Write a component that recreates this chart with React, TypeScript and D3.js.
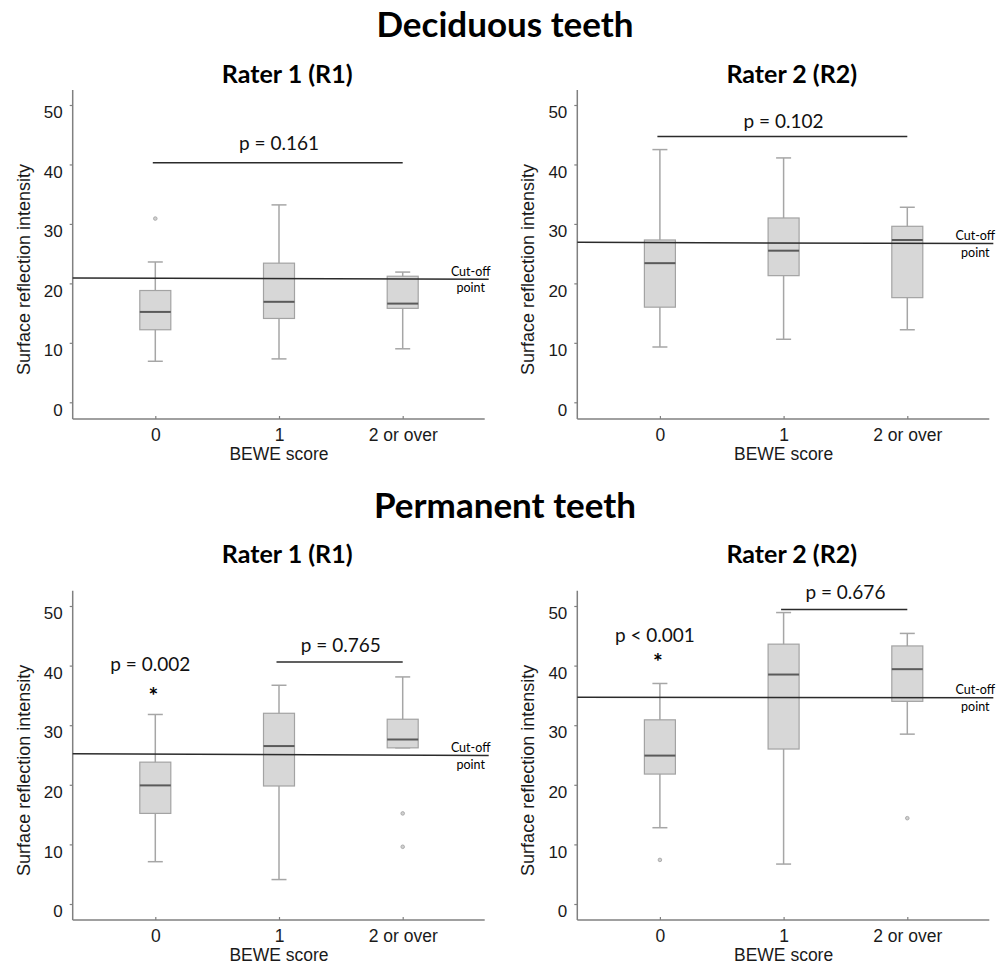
import React, { useEffect, useRef } from "react";
import * as d3 from "d3";

const categories = ["0", "1", "2 or over"];
const yTicks = [0, 10, 20, 30, 40, 50];

// box stats (whisker min, q1, median, q3, whisker max)
const deciduousR1 = [
  { min: 6.9, q1: 12.2, median: 15.2, q3: 18.8, max: 23.6 },
  { min: 7.3, q1: 14.1, median: 16.9, q3: 23.4, max: 33.2 },
  { min: 9.0, q1: 15.8, median: 16.6, q3: 21.2, max: 21.9 },
];
const deciduousR2 = [
  { min: 9.3, q1: 16.0, median: 23.4, q3: 27.3, max: 42.5 },
  { min: 10.6, q1: 21.3, median: 25.5, q3: 31.0, max: 41.1 },
  { min: 12.2, q1: 17.6, median: 27.3, q3: 29.6, max: 32.8 },
];
const permanentR1 = [
  { min: 7.1, q1: 15.2, median: 19.9, q3: 23.8, max: 31.8 },
  { min: 4.1, q1: 19.8, median: 26.5, q3: 32.0, max: 36.7 },
  { min: 26.2, q1: 26.2, median: 27.6, q3: 31.0, max: 38.1 },
];
const permanentR2 = [
  { min: 12.8, q1: 21.8, median: 24.9, q3: 30.9, max: 37.0 },
  { min: 6.7, q1: 26.0, median: 38.5, q3: 43.6, max: 48.9 },
  { min: 28.5, q1: 34.0, median: 39.4, q3: 43.3, max: 45.4 },
];

const deciduousR1Outliers = [[30.9], [], []];
const deciduousR2Outliers = [[], [], []];
const permanentR1Outliers = [[], [], [15.2, 9.6]];
const permanentR2Outliers = [[7.4], [], [14.4]];

// cut-off line value at left and right end
const deciduousR1Cutoff = [20.9, 20.7];
const deciduousR2Cutoff = [26.9, 26.7];
const permanentR1Cutoff = [25.2, 24.9];
const permanentR2Cutoff = [34.7, 34.6];

const deciduousR1Tests = [{ from: "0", to: "2 or over", bar: 40.3, labelAt: 42.5, label: "p = 0.161", star: null }];
const deciduousR2Tests = [{ from: "0", to: "2 or over", bar: 44.7, labelAt: 46.2, label: "p = 0.102", star: null }];
const permanentR1Tests = [
  { from: "0", to: "0", bar: null, labelAt: 39.1, label: "p = 0.002", star: 35.9 },
  { from: "1", to: "2 or over", bar: 40.6, labelAt: 42.3, label: "p = 0.765", star: null },
];
const permanentR2Tests = [
  { from: "0", to: "0", bar: null, labelAt: 44.0, label: "p < 0.001", star: 41.6 },
  { from: "1", to: "2 or over", bar: 49.4, labelAt: 51.1, label: "p = 0.676", star: null },
];

const calibriLike = "Lato, 'Open Sans', sans-serif";
const arialLike = "'Liberation Sans', Arial, sans-serif";

const panels = [
  { title: "Rater 1 (R1)", boxes: deciduousR1, outliers: deciduousR1Outliers, cutoff: deciduousR1Cutoff, tests: deciduousR1Tests, left: 72.7, top: 90, bottom: 419, zeroY: 402.3, fiftyY: 105, titleY: 83 },
  { title: "Rater 2 (R2)", boxes: deciduousR2, outliers: deciduousR2Outliers, cutoff: deciduousR2Cutoff, tests: deciduousR2Tests, left: 577.3, top: 90, bottom: 419, zeroY: 402.3, fiftyY: 105, titleY: 83 },
  { title: "Rater 1 (R1)", boxes: permanentR1, outliers: permanentR1Outliers, cutoff: permanentR1Cutoff, tests: permanentR1Tests, left: 72.7, top: 590.7, bottom: 920, zeroY: 904, fiftyY: 606, titleY: 563 },
  { title: "Rater 2 (R2)", boxes: permanentR2, outliers: permanentR2Outliers, cutoff: permanentR2Cutoff, tests: permanentR2Tests, left: 577.3, top: 590.7, bottom: 920, zeroY: 904, fiftyY: 606, titleY: 563 },
];

const sections = [
  { label: "Deciduous teeth", y: 37 },
  { label: "Permanent teeth", y: 518 },
];

const App = () => {
  const svgRef = useRef<SVGSVGElement>(null);

  useEffect(() => {
    const svg = d3.select(svgRef.current);
    svg.selectAll("*").remove();

    svg.append("rect").attr("width", 1006).attr("height", 965).attr("fill", "#fff");

    svg
      .selectAll(".section")
      .data(sections)
      .join("text")
      .attr("class", "section")
      .attr("x", 505)
      .attr("y", (d) => d.y)
      .attr("text-anchor", "middle")
      .style("font-family", calibriLike)
      .style("font-weight", "bold")
      .style("font-size", "35px")
      .style("fill", "#000")
      .text((d) => d.label);

    panels.forEach((p) => {
      const y = d3.scaleLinear().domain([0, 50]).range([p.zeroY, p.fiftyY]);
      const x = d3.scalePoint().domain(categories).range([p.left + 82.6, p.left + 330]);
      const g = svg.append("g");
      const boxW = 31;
      const capW = 15;

      g.append("text")
        .attr("x", p.left + 214.5)
        .attr("y", p.titleY)
        .attr("text-anchor", "middle")
        .style("font-family", calibriLike)
        .style("font-weight", "bold")
        .style("font-size", "25px")
        .text(p.title);

      // axes
      const yAxis = g
        .append("g")
        .attr("transform", `translate(${p.left},0)`)
        .call(d3.axisLeft(y).tickValues(yTicks).tickSize(3).tickPadding(7));
      yAxis.select(".domain").remove();
      yAxis.selectAll("line").attr("stroke", "#808080").attr("stroke-width", 1.2);
      yAxis
        .selectAll("text")
        .attr("dy", "0.75em")
        .style("font-family", arialLike)
        .style("font-size", "17px")
        .style("fill", "#1a1a1a");

      const xAxis = g
        .append("g")
        .attr("transform", `translate(0,${p.bottom})`)
        .call(d3.axisBottom(x).tickSize(-3).tickPadding(10));
      xAxis.select(".domain").remove();
      xAxis.selectAll("line").attr("stroke", "#808080").attr("stroke-width", 1.2);
      xAxis
        .selectAll("text")
        .style("font-family", arialLike)
        .style("font-size", "17.5px")
        .style("fill", "#1a1a1a");

      g.append("line")
        .attr("x1", p.left).attr("x2", p.left)
        .attr("y1", p.top).attr("y2", p.bottom)
        .attr("stroke", "#808080").attr("stroke-width", 1.5);
      g.append("line")
        .attr("x1", p.left).attr("x2", p.left + 412)
        .attr("y1", p.bottom).attr("y2", p.bottom)
        .attr("stroke", "#808080").attr("stroke-width", 1.5);

      g.append("text")
        .attr("transform", `translate(${p.left - 43},${(p.top + p.bottom) / 2 + 15}) rotate(-90)`)
        .attr("text-anchor", "middle")
        .style("font-family", arialLike)
        .style("font-size", "18px")
        .style("fill", "#1a1a1a")
        .text("Surface reflection intensity");

      g.append("text")
        .attr("x", x("1"))
        .attr("y", p.bottom + 41)
        .attr("text-anchor", "middle")
        .style("font-family", arialLike)
        .style("font-size", "17.5px")
        .style("fill", "#1a1a1a")
        .text("BEWE score");

      // boxes
      const items = g
        .selectAll(".box")
        .data(p.boxes.map((b, i) => ({ ...b, cat: categories[i], out: p.outliers[i] })))
        .join("g")
        .attr("class", "box");

      items.append("line")
        .attr("x1", (d) => x(d.cat)).attr("x2", (d) => x(d.cat))
        .attr("y1", (d) => y(d.min)).attr("y2", (d) => y(d.max))
        .attr("stroke", "#a6a6a6").attr("stroke-width", 1.5);
      items.append("line")
        .attr("x1", (d) => x(d.cat) - capW / 2).attr("x2", (d) => x(d.cat) + capW / 2)
        .attr("y1", (d) => y(d.max)).attr("y2", (d) => y(d.max))
        .attr("stroke", "#a6a6a6").attr("stroke-width", 1.5);
      items.append("line")
        .attr("x1", (d) => x(d.cat) - capW / 2).attr("x2", (d) => x(d.cat) + capW / 2)
        .attr("y1", (d) => y(d.min)).attr("y2", (d) => y(d.min))
        .attr("stroke", "#a6a6a6").attr("stroke-width", 1.5);
      items.append("rect")
        .attr("x", (d) => x(d.cat) - boxW / 2)
        .attr("width", boxW)
        .attr("y", (d) => y(d.q3))
        .attr("height", (d) => y(d.q1) - y(d.q3))
        .attr("fill", "#d7d7d7")
        .attr("stroke", "#a3a3a3")
        .attr("stroke-width", 1.2);
      items.append("line")
        .attr("x1", (d) => x(d.cat) - boxW / 2).attr("x2", (d) => x(d.cat) + boxW / 2)
        .attr("y1", (d) => y(d.median)).attr("y2", (d) => y(d.median))
        .attr("stroke", "#5a5a5a").attr("stroke-width", 2);
      items.each(function (d) {
        d3.select(this)
          .selectAll("circle")
          .data(d.out)
          .join("circle")
          .attr("cx", x(d.cat))
          .attr("cy", (v) => y(v))
          .attr("r", 1.8)
          .attr("fill", "#d0d0d0")
          .attr("stroke", "#a0a0a0")
          .attr("stroke-width", 0.8);
      });

      // cut-off line
      g.append("line")
        .attr("x1", p.left).attr("x2", p.left + 416)
        .attr("y1", y(p.cutoff[0])).attr("y2", y(p.cutoff[1]))
        .attr("stroke", "#2b2b2b").attr("stroke-width", 1.5);
      const cy = y(p.cutoff[1]);
      g.append("text")
        .attr("x", p.left + 398).attr("y", cy - 3.5)
        .attr("text-anchor", "middle")
        .style("font-family", calibriLike).style("font-size", "12.5px")
        .text("Cut-off");
      g.append("text")
        .attr("x", p.left + 398).attr("y", cy + 13)
        .attr("text-anchor", "middle")
        .style("font-family", calibriLike).style("font-size", "12.5px")
        .text("point");

      // significance annotations
      p.tests.forEach((t) => {
        const xa = x(t.from) as number;
        const xb = x(t.to) as number;
        if (t.bar !== null) {
          g.append("line")
            .attr("x1", xa - 2.5).attr("x2", xb)
            .attr("y1", y(t.bar)).attr("y2", y(t.bar))
            .attr("stroke", "#2b2b2b").attr("stroke-width", 1.5);
        }
        g.append("text")
          .attr("x", (xa + xb) / 2 - (t.star !== null ? 5 : 0))
          .attr("y", y(t.labelAt))
          .attr("text-anchor", "middle")
          .style("font-family", calibriLike)
          .style("font-size", "19px")
          .style("fill", "#111")
          .text(t.label);
        if (t.star !== null) {
          g.append("text")
            .attr("x", xa - 2)
            .attr("y", y(t.star))
            .attr("dy", "0.62em")
            .attr("text-anchor", "middle")
            .style("font-family", calibriLike)
            .style("font-weight", "bold")
            .style("font-size", "23px")
            .text("*");
        }
      });
    });
  }, []);

  return (
    <svg
      ref={svgRef}
      width={1006}
      height={965}
      style={{ position: "absolute", left: 0, top: 0 }}
    ></svg>
  );
};

export default App;
